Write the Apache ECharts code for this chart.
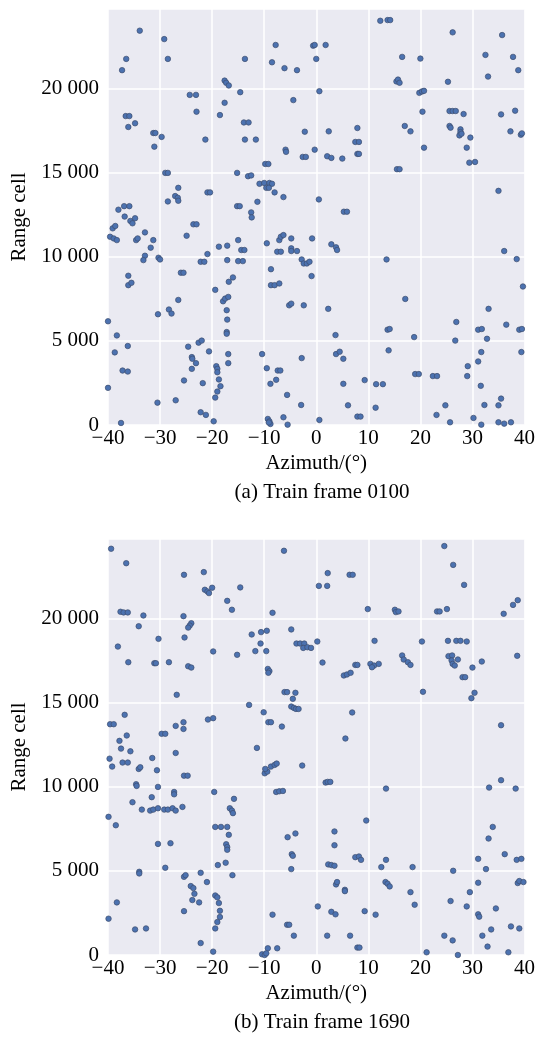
<!DOCTYPE html>
<html>
<head>
<meta charset="utf-8">
<script src="https://cdn.jsdelivr.net/npm/echarts@6/dist/echarts.min.js"></script>
<style>
html,body{margin:0;padding:0;background:#fff;}
#c{width:538px;height:1038px;}
</style>
</head>
<body>
<div id="c"></div>
<script>
// ---- data (azimuth in degrees, range cell) ----
const frameA_az = [
-33.9,-29.2,-36.5,-28.5,-37.3,-13.7,-7.8,-8.5,-6.1,-3.7,-17.6,-17.3,-16.8,-14.6,-24.3,-23.1,-4.4,-17.6,-23.0,-18.5,
-36.6,-35.9,-34.8,-36.1,-13.9,-13.0,-31.3,-30.9,-29.7,-31.1,-21.3,-13.7,-11.6,-2.2,-5.9,-5.8,-2.6,-2.0,-9.8,-9.2,
-29.0,-28.5,-15.2,-13.1,-12.5,-10.9,-10.0,-9.0,-8.5,-9.6,-9.1,-8.0,-6.3,-26.5,-20.9,-20.4,-27.1,-26.6,-28.5,-26.5,
-11.3,-15.2,-14.7,-12.5,-12.4,-38.0,-36.9,-35.9,-36.8,-34.8,
-35.7,-35.3,-39.1,-38.6,-39.6,-38.9,-38.3,-34.6,-34.3,-32.9,-31.3,-31.8,-32.9,-33.2,-30.3,-30.0,-24.9,-23.6,-23.0,-22.2,
-21.5,-20.9,-18.7,-17.1,-15.0,-14.4,-13.8,-17.1,-15.0,-14.1,-36.1,-36.1,-35.5,-26.0,-25.5,-16.0,-16.8,-19.4,-17.9,-17.5,
-16.9,-17.2,-17.1,-17.2,-17.2,-26.5,-28.3,-27.8,-30.4,-40.0,-38.3,-38.7,-36.2,-37.2,-36.2,-40.0,-37.5,-24.6,-22.6,-22.0,
-23.9,-23.8,-23.1,-23.9,-20.6,-25.4,-21.8,-30.5,-27.0,-22.2,-21.2,-19.7,-19.2,-19.0,-19.0,-18.7,-18.4,-19.0,-19.4,-16.9,
-16.9,-10.4,-9.5,-7.7,-8.8,-7.4,-6.9,-5.6,-2.9,-2.8,-9.5,-8.7,-8.7,-8.0,-7.1,-7.1,-6.8,-6.3,-4.8,-7.5,
-6.8,-4.8,-4.8,-3.7,-2.8,-2.4,-1.8,-1.3,-0.8,-0.9,-5.2,-4.8,-2.4,-9.3,-9.0,-8.8,-9.1,-6.3,-5.5,
2.9,3.8,4.0,13.5,2.3,17.1,3.7,3.8,4.5,5.2,5.2,6.1,7.9,8.5,0.6,9.3,11.4,11.5,12.8,13.7,
14.1,13.9,18.8,19.0,19.7,22.4,23.2,24.8,23.1,25.7,26.9,26.7,29.1,29.0,30.2,31.7,31.1,31.8,33.1,32.8,
31.7,31.1,31.6,35.5,32.3,35.0,35.0,36.1,37.4,36.1,38.5,39.7,36.5,39.0,39.5,39.4,
-0.6,-0.3,1.8,0.0,0.6,12.3,13.7,14.2,16.5,20.0,15.4,15.7,16.0,19.8,20.3,20.7,26.2,25.3,35.7,32.5,
37.8,33.0,38.8,20.4,17.0,18.1,20.7,25.6,26.2,26.8,28.3,25.6,25.8,27.7,27.7,27.5,27.9,29.6,28.9,29.4,
30.5,35.5,38.2,37.3,39.3,39.5,2.4,7.9,7.5,8.2,7.9,8.2,-0.3,2.1,2.9,5.0,15.5,16.0,35.0,0.5,
5.3,5.9
];
const frameA_range = [
23460,22960,21780,21780,21110,21780,22610,21580,21230,21110,20490,20360,20200,19800,19640,19640,19330,19170,18640,18440,
18380,18380,17950,17730,18000,18000,17370,17370,17140,16560,16980,16980,16980,17450,16380,16250,15950,15950,15530,15530,
15000,15000,15000,14800,14850,14350,14400,14400,14350,14110,14110,13840,13560,14110,13840,13840,13620,13520,13300,13340,
13280,13020,13020,12650,12350,12810,13020,13020,12400,12300,
12140,12000,11700,11840,11200,11100,11000,11000,11100,11460,11000,10550,10070,9810,9950,9850,11260,11940,11940,9710,
9710,10170,10610,10670,11000,10410,10410,9810,9750,9750,8880,8320,8460,9060,9060,8780,8520,8040,7360,7520,
7620,6830,6270,5530,5430,7440,6870,6630,6590,6170,5330,4320,4700,3240,3180,2210,120,4660,4900,5020,
4040,3940,3680,3340,4380,2650,2490,1330,1470,760,600,220,3500,3340,3140,2710,2310,1990,1630,4220,
3680,4220,3380,2690,2450,3240,3240,1790,1190,3980,10810,9270,8320,8320,8420,11000,11200,11300,11100,10310,
10310,10510,10350,10350,9850,9610,9610,9710,11100,8860,7120,7220,7120,360,220,60,150,460,20,
10750,10570,10410,9850,6910,7500,5350,4220,4360,3940,2450,1170,500,500,300,2670,1030,2430,2430,5670,
5710,4440,5230,3030,3030,2910,2910,1170,600,160,6130,5020,3500,2910,420,20,5670,5710,6910,5130,
4340,3780,2330,1570,1190,1170,160,80,160,10350,9870,8240,5970,5670,5710,4340,
22570,22610,22610,21780,19860,24050,24090,24090,21900,21800,20440,20550,20360,19760,19840,19880,23360,20420,23200,22020,
21900,20730,21110,18640,17790,17470,16500,18680,18680,18680,18500,17790,17690,17590,17430,17230,17330,17100,16500,15610,
15650,18480,18700,17470,17270,17350,17470,17670,16840,16840,16130,16130,16380,15990,15890,15850,15220,15220,13930,13420,
12690,12690
];
const frameB_az = [
-39.4,-36.5,-25.4,-21.6,-21.4,-20.9,-20.6,-20.0,-14.6,-6.2,-17.1,-16.2,-8.4,-37.6,-37.0,-36.2,-33.2,-34.1,-25.5,-24.0,
-24.3,-24.6,-25.3,-30.3,-38.1,-36.1,-31.1,-30.8,-28.3,-24.6,-24.0,-19.8,-15.2,-12.4,-10.6,-9.5,-10.7,-11.7,-9.6,-9.3,
-9.0,-9.2,-4.8,-3.8,-3.1,-2.3,-2.5,-1.7,-1.0,-6.1,-5.6,-4.0,-4.5,-4.8,-4.3,-3.9,-3.4,-12.9,-10.1,-9.2,
-8.7,-6.6,-26.8,-36.8,-39.6,-38.9,-36.4,-37.8,-29.7,-29.0,-27.0,-25.5,-25.5,-20.8,-19.8,
-37.5,-35.7,-39.7,-39.2,-37.2,-36.2,-34.1,-33.8,-31.5,-30.6,-27.0,-25.4,-24.7,-34.6,-34.5,-30.4,-35.3,-31.6,-33.5,-31.9,
-31.3,-30.4,-29.2,-28.5,-27.6,-27.0,-25.7,-27.3,-27.3,-39.9,-38.5,-19.6,-15.8,-16.6,-16.2,-16.0,-19.4,-18.3,-17.1,-16.8,
-17.3,-17.1,-17.1,-18.9,-17.4,-16.1,-30.4,-28.0,-29.0,-34.0,-34.0,-25.4,-25.1,-22.2,-21.0,-24.1,-23.6,-23.4,-23.8,-22.5,
-25.4,-19.4,-19.0,-18.7,-18.5,-18.5,-19.0,-19.4,-22.2,-19.8,-38.3,-39.9,-34.8,-32.7,-11.4,-9.9,-9.4,-9.8,-8.7,-8.0,
-7.6,-2.7,-7.7,-7.1,-6.4,-5.5,-4.0,-4.7,-4.5,-4.8,-8.4,-5.6,-5.2,-4.3,-9.3,-7.5,-10.4,-9.9,-9.6,
0.2,2.2,0.5,2.1,6.4,7.0,9.9,15.1,15.3,15.8,23.2,23.7,25.1,24.6,26.3,28.4,36.0,37.8,38.7,11.2,
20.3,25.3,26.9,27.7,28.9,1.2,7.5,7.9,5.3,5.9,6.6,10.4,11.1,12.0,10.7,16.5,16.8,17.6,18.1,25.4,
26.1,26.0,26.2,27.2,26.6,28.1,28.6,30.0,31.8,38.6,20.5,30.4,29.8,6.9,35.5,5.6,
1.8,2.2,2.7,13.4,9.6,3.5,3.5,2.3,2.9,3.5,7.5,8.2,8.6,13.4,12.5,18.5,3.8,4.0,5.5,5.5,
13.3,13.7,14.1,18.1,18.9,0.3,2.9,3.7,9.3,11.4,2.1,6.5,7.9,8.3,21.2,24.6,26.2,27.2,26.3,25.8,
29.5,28.9,31.1,32.6,33.1,33.9,36.2,38.5,39.4,38.7,39.0,39.8,31.1,31.1,31.3,34.5,37.4,39.0,33.6,31.9,
32.9,36.9,33.2,35.5,38.3
];
const frameB_range = [
24170,23310,22620,22780,21730,21630,21530,21850,21870,24050,21070,20540,20360,20420,20380,20380,20200,19560,20160,19740,
19600,19480,18890,18810,18350,17420,17360,17360,17420,17180,17100,18060,17860,19070,19210,19290,18530,18080,18080,17020,
16890,16790,19370,18530,18530,18530,18270,18310,18270,15640,15640,15600,15240,14780,14700,14640,14640,14880,14440,13850,
13850,13590,15480,14290,13730,13730,13060,12740,13160,13160,13630,13850,13450,14010,14090,
12280,12120,11680,11210,11450,11450,11070,11170,11720,10990,12020,10670,10670,10160,10060,10000,9090,9390,8650,8590,
8650,8730,8650,8650,8730,8590,8810,9700,9560,8220,7720,9700,9290,8730,8590,8440,7620,7620,7620,7150,
6590,6420,6260,5350,5490,4750,6610,6650,5190,4950,4850,4650,4750,4890,4340,4100,3980,3640,3270,3130,
2610,3540,3430,3090,2630,2260,1960,1580,710,200,3130,2160,1520,1580,12320,10810,10910,11070,11210,11310,
11390,11270,9700,9740,9760,7010,7230,6000,5900,5110,2400,1800,1800,1150,400,400,40,0,100,
18650,22720,21960,21960,22620,22620,20580,20540,20400,20440,20440,20440,20580,24330,23210,22020,20300,20830,21110,18690,
18650,18690,18690,18690,18650,17400,17260,17260,16630,16690,16790,17320,17220,17320,17120,17820,17580,17420,17260,17780,
17820,17520,17320,17580,17220,16530,16530,17100,17460,17800,15660,15600,15280,14430,13670,12880,
10260,10300,10300,9900,8000,7350,6530,5390,5350,5310,5820,5860,5660,5660,5230,5230,4200,4340,3880,3800,
4340,4240,4080,3740,2990,2890,2570,2420,2610,2400,1150,1150,440,440,160,1150,870,0,5010,3210,
3740,2890,5720,5110,6930,7620,6000,5660,5720,4280,4400,4340,4300,2420,2280,2770,1700,1580,1520,1150,
500,160,9960,10400,9900
];
const xTicks = [-40, -30, -20, -10, 0, 10, 20, 30, 40];
const yTicks = [0, 5000, 10000, 15000, 20000];
const captions = ['(a) Train frame 0100', '(b) Train frame 1690'];
const xTitle = 'Azimuth/(°)';
const yTitle = 'Range cell';
const yMax = 24750;

function pairs(a, r) { return a.map((v, i) => [v, r[i]]); }

const FONT = "'Liberation Serif', 'Times New Roman', serif";
const TXT = { fontFamily: FONT, fontSize: 21, color: '#000' };
const fmtY = v => yTicks.indexOf(v) >= 0 ? String(v).replace(/\B(?=(\d{3})+(?!\d))/g, ' ') : '';
const fmtX = v => xTicks.indexOf(v) >= 0 ? (v < 0 ? '\u2212' + Math.abs(v) : String(v)) : '';

const grids = [
  { left: 108, right: 12, top: 9, height: 416 },
  { left: 108, right: 12, top: 539, height: 416 }
];

function xAx(i) {
  return {
    gridIndex: i, type: 'value', min: -40, max: 40, interval: 10,
    name: xTitle, nameLocation: 'middle', nameGap: 28, nameTextStyle: TXT,
    axisLine: { show: false }, axisTick: { show: false },
    axisLabel: Object.assign({ margin: 3, formatter: fmtX }, TXT),
    splitLine: { show: true, lineStyle: { color: '#ffffff', width: 1.5 } }
  };
}
function yAx(i) {
  return {
    gridIndex: i, type: 'value', min: 0, max: yMax, interval: 5000,
    name: yTitle, nameLocation: 'middle', nameGap: 75, nameRotate: 90, nameTextStyle: TXT,
    axisLine: { show: false }, axisTick: { show: false },
    axisLabel: Object.assign({ margin: 9, formatter: fmtY, showMaxLabel: false }, TXT),
    splitLine: { show: true, lineStyle: { color: '#ffffff', width: 1.5 } }
  };
}

const chart = echarts.init(document.getElementById('c'), null, { renderer: 'canvas' });
chart.setOption({
  animation: false,
  backgroundColor: '#ffffff',
  title: [
    { text: captions[0], left: 317, top: 477, textAlign: 'center', textStyle: Object.assign({ fontWeight: 'normal' }, TXT) },
    { text: captions[1], left: 317, top: 1007, textAlign: 'center', textStyle: Object.assign({ fontWeight: 'normal' }, TXT) }
  ],
  grid: grids.map(g => Object.assign({ show: true, backgroundColor: '#EAEAF2', borderWidth: 0 }, g)),
  xAxis: [xAx(0), xAx(1)],
  yAxis: [yAx(0), yAx(1)],
  series: [
    { type: 'scatter', xAxisIndex: 0, yAxisIndex: 0, data: pairs(frameA_az, frameA_range),
      symbolSize: 5.5, itemStyle: { color: '#4C72B0', borderColor: '#3d4d6e', borderWidth: 0.7, opacity: 1 } },
    { type: 'scatter', xAxisIndex: 1, yAxisIndex: 1, data: pairs(frameB_az, frameB_range),
      symbolSize: 5.5, itemStyle: { color: '#4C72B0', borderColor: '#3d4d6e', borderWidth: 0.7, opacity: 1 } }
  ]
});
</script>
</body>
</html>
